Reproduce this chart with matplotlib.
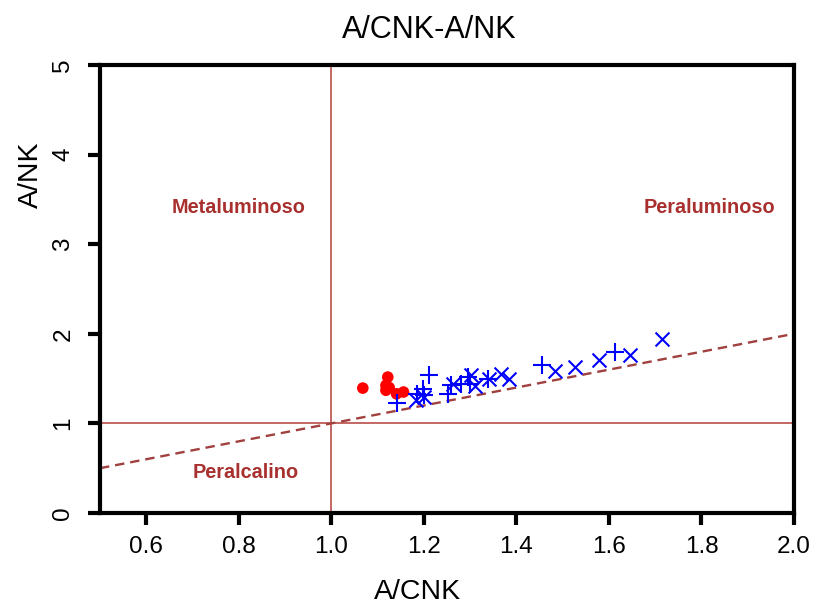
import matplotlib
matplotlib.use("Agg")
import matplotlib.pyplot as plt

plt.rcParams['font.family'] = ['Liberation Sans', 'DejaVu Sans']

# Data
red_x = [1.068, 1.122, 1.118, 1.118, 1.141, 1.156, 1.125]
red_y = [1.394, 1.517, 1.425, 1.37, 1.33, 1.35, 1.40]

plus_x = [1.141, 1.212, 1.185, 1.198, 1.201, 1.252, 1.259, 1.28, 1.295, 1.30, 1.338, 1.456, 1.613]
plus_y = [1.227, 1.544, 1.33, 1.388, 1.313, 1.33, 1.425, 1.44, 1.517, 1.44, 1.50, 1.656, 1.80]

cross_x = [1.182, 1.20, 1.263, 1.302, 1.31, 1.34, 1.367, 1.385, 1.483, 1.526, 1.578, 1.645, 1.714]
cross_y = [1.265, 1.29, 1.44, 1.536, 1.42, 1.49, 1.555, 1.50, 1.585, 1.63, 1.71, 1.76, 1.946]

ref_line_x = [0.5, 2.0]
ref_line_y = [0.5, 2.0]

x_ticks = [0.6, 0.8, 1.0, 1.2, 1.4, 1.6, 1.8, 2.0]
y_ticks = [0, 1, 2, 3, 4, 5]

W, H = 814, 608
fig = plt.figure(figsize=(W / 100, H / 100), dpi=100)
ax = fig.add_axes([100 / W, 95 / H, 694 / W, 448 / H])

line_col = '#BE5A57'
text_col = '#A8302F'

ax.axvline(1.0, color=line_col, lw=1.3, zorder=1)
ax.axhline(1.0, color=line_col, lw=1.3, zorder=1)
ax.plot(ref_line_x, ref_line_y, color='#A0403F', lw=1.7, ls=(0, (4, 2.5)), zorder=1)

ax.scatter(red_x, red_y, s=70, color='#FF0000', edgecolors='none', zorder=3)
ax.scatter(plus_x, plus_y, s=170, marker='+', color='#0000FF', linewidths=1.5, zorder=3)
ax.scatter(cross_x, cross_y, s=100, marker='x', color='#0000FF', linewidths=1.5, zorder=3)

ax.text(0.8, 3.41, 'Metaluminoso', color=text_col, fontsize=14.3, fontweight='bold', ha='center', va='center')
ax.text(1.818, 3.41, 'Peraluminoso', color=text_col, fontsize=14.3, fontweight='bold', ha='center', va='center')
ax.text(0.814, 0.45, 'Peralcalino', color=text_col, fontsize=14.3, fontweight='bold', ha='center', va='center')

ax.set_xlim(0.5, 2.0)
ax.set_ylim(0, 5)
ax.set_xticks(x_ticks)
ax.set_xticklabels([f'{v:.1f}' for v in x_ticks])
ax.set_yticks(y_ticks)
ax.set_yticklabels([str(v) for v in y_ticks], rotation=90, va='center')

for s in ax.spines.values():
    s.set_linewidth(3)
ax.tick_params(direction='out', length=8.5, width=3, labelsize=17.5, pad=8)
ax.tick_params(axis='y', pad=10)

fig.text(429 / W, 1 - 30 / H, 'A/CNK-A/NK', fontsize=22, ha='center', va='center')
fig.text(418 / W, 1 - 592 / H, 'A/CNK', fontsize=20.5, ha='center', va='center')
fig.text(31 / W, 1 - 175 / H, 'A/NK', fontsize=20.5, ha='center', va='center', rotation=90)

fig.savefig('out.png', dpi=100)
